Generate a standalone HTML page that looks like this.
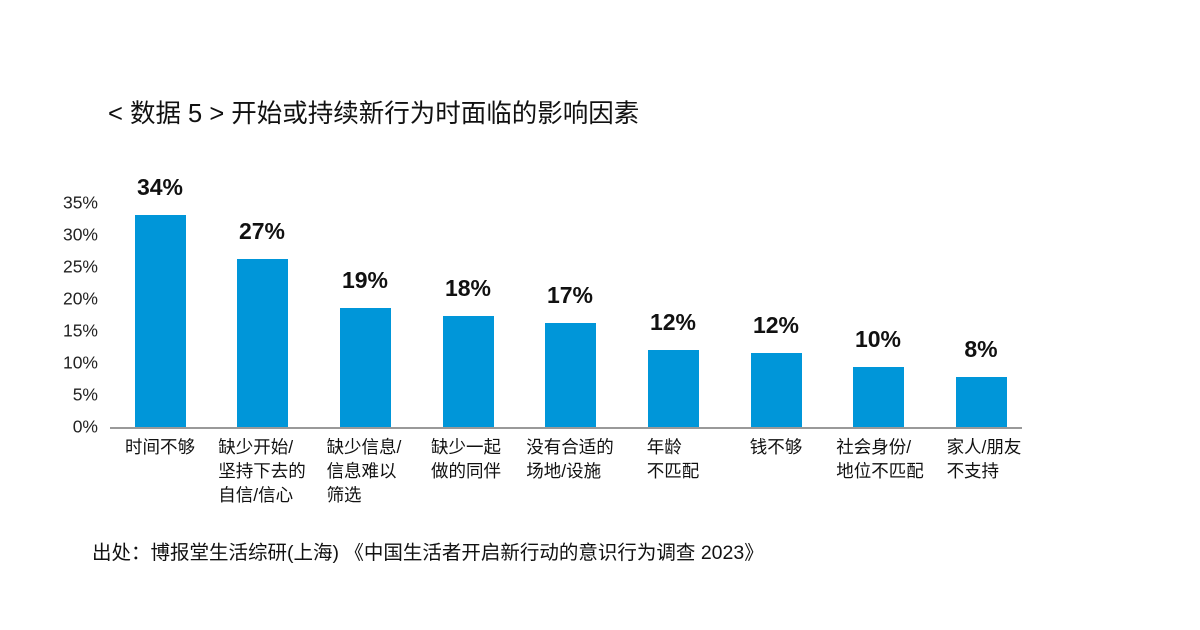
<!DOCTYPE html>
<html><head><meta charset="utf-8"><style>
body{margin:0;width:1200px;height:630px;background:#fff;position:relative;overflow:hidden;font-family:"Liberation Sans","Noto Sans CJK SC",sans-serif;color:#111}
.a{position:absolute}
.title{left:108px;top:93px;font-size:25.5px;white-space:nowrap}
.yl{right:1102px;font-size:17.5px;transform:translateY(-50%);color:#222}
.bar{background:#0096d9;width:51px}
.val{font-size:23px;font-weight:bold;width:100px;text-align:center}
.cat{font-size:17.5px;line-height:24px;text-align:left;transform:translateX(-50%);white-space:nowrap;top:435px}
.src{left:92px;top:536px;font-size:19.5px;white-space:nowrap}
</style></head><body>
<div class="a title">&lt; 数据 5 &gt; 开始或持续新行为时面临的影响因素</div>
<div class="a yl" style="top:203px">35%</div>
<div class="a yl" style="top:235px">30%</div>
<div class="a yl" style="top:267px">25%</div>
<div class="a yl" style="top:299px">20%</div>
<div class="a yl" style="top:331px">15%</div>
<div class="a yl" style="top:363px">10%</div>
<div class="a yl" style="top:395px">5%</div>
<div class="a yl" style="top:427px">0%</div>

<div class="a bar" style="left:135px;top:215px;height:212px"></div>
<div class="a bar" style="left:237px;top:259px;height:168px"></div>
<div class="a bar" style="left:340px;top:308px;height:119px"></div>
<div class="a bar" style="left:443px;top:316px;height:111px"></div>
<div class="a bar" style="left:545px;top:323px;height:104px"></div>
<div class="a bar" style="left:648px;top:350px;height:77px"></div>
<div class="a bar" style="left:751px;top:353px;height:74px"></div>
<div class="a bar" style="left:853px;top:367px;height:60px"></div>
<div class="a bar" style="left:956px;top:377px;height:50px"></div>
<div class="a" style="left:110px;top:427px;width:912px;height:2px;background:#999"></div>

<div class="a val" style="left:110px;top:174px">34%</div>
<div class="a val" style="left:212px;top:218px">27%</div>
<div class="a val" style="left:315px;top:267px">19%</div>
<div class="a val" style="left:418px;top:275px">18%</div>
<div class="a val" style="left:520px;top:282px">17%</div>
<div class="a val" style="left:623px;top:309px">12%</div>
<div class="a val" style="left:726px;top:312px">12%</div>
<div class="a val" style="left:828px;top:326px">10%</div>
<div class="a val" style="left:931px;top:336px">8%</div>

<div class="a cat" style="left:160px">时间不够</div>
<div class="a cat" style="left:262px">缺少开始/<br>坚持下去的<br>自信/信心</div>
<div class="a cat" style="left:364px">缺少信息/<br>信息难以<br>筛选</div>
<div class="a cat" style="left:466px">缺少一起<br>做的同伴</div>
<div class="a cat" style="left:570px">没有合适的<br>场地/设施</div>
<div class="a cat" style="left:673px">年龄<br>不匹配</div>
<div class="a cat" style="left:776px">钱不够</div>
<div class="a cat" style="left:880px">社会身份/<br>地位不匹配</div>
<div class="a cat" style="left:984px">家人/朋友<br>不支持</div>

<div class="a src">出处：博报堂生活综研(上海) 《中国生活者开启新行动的意识行为调查 2023》</div>
</body></html>
